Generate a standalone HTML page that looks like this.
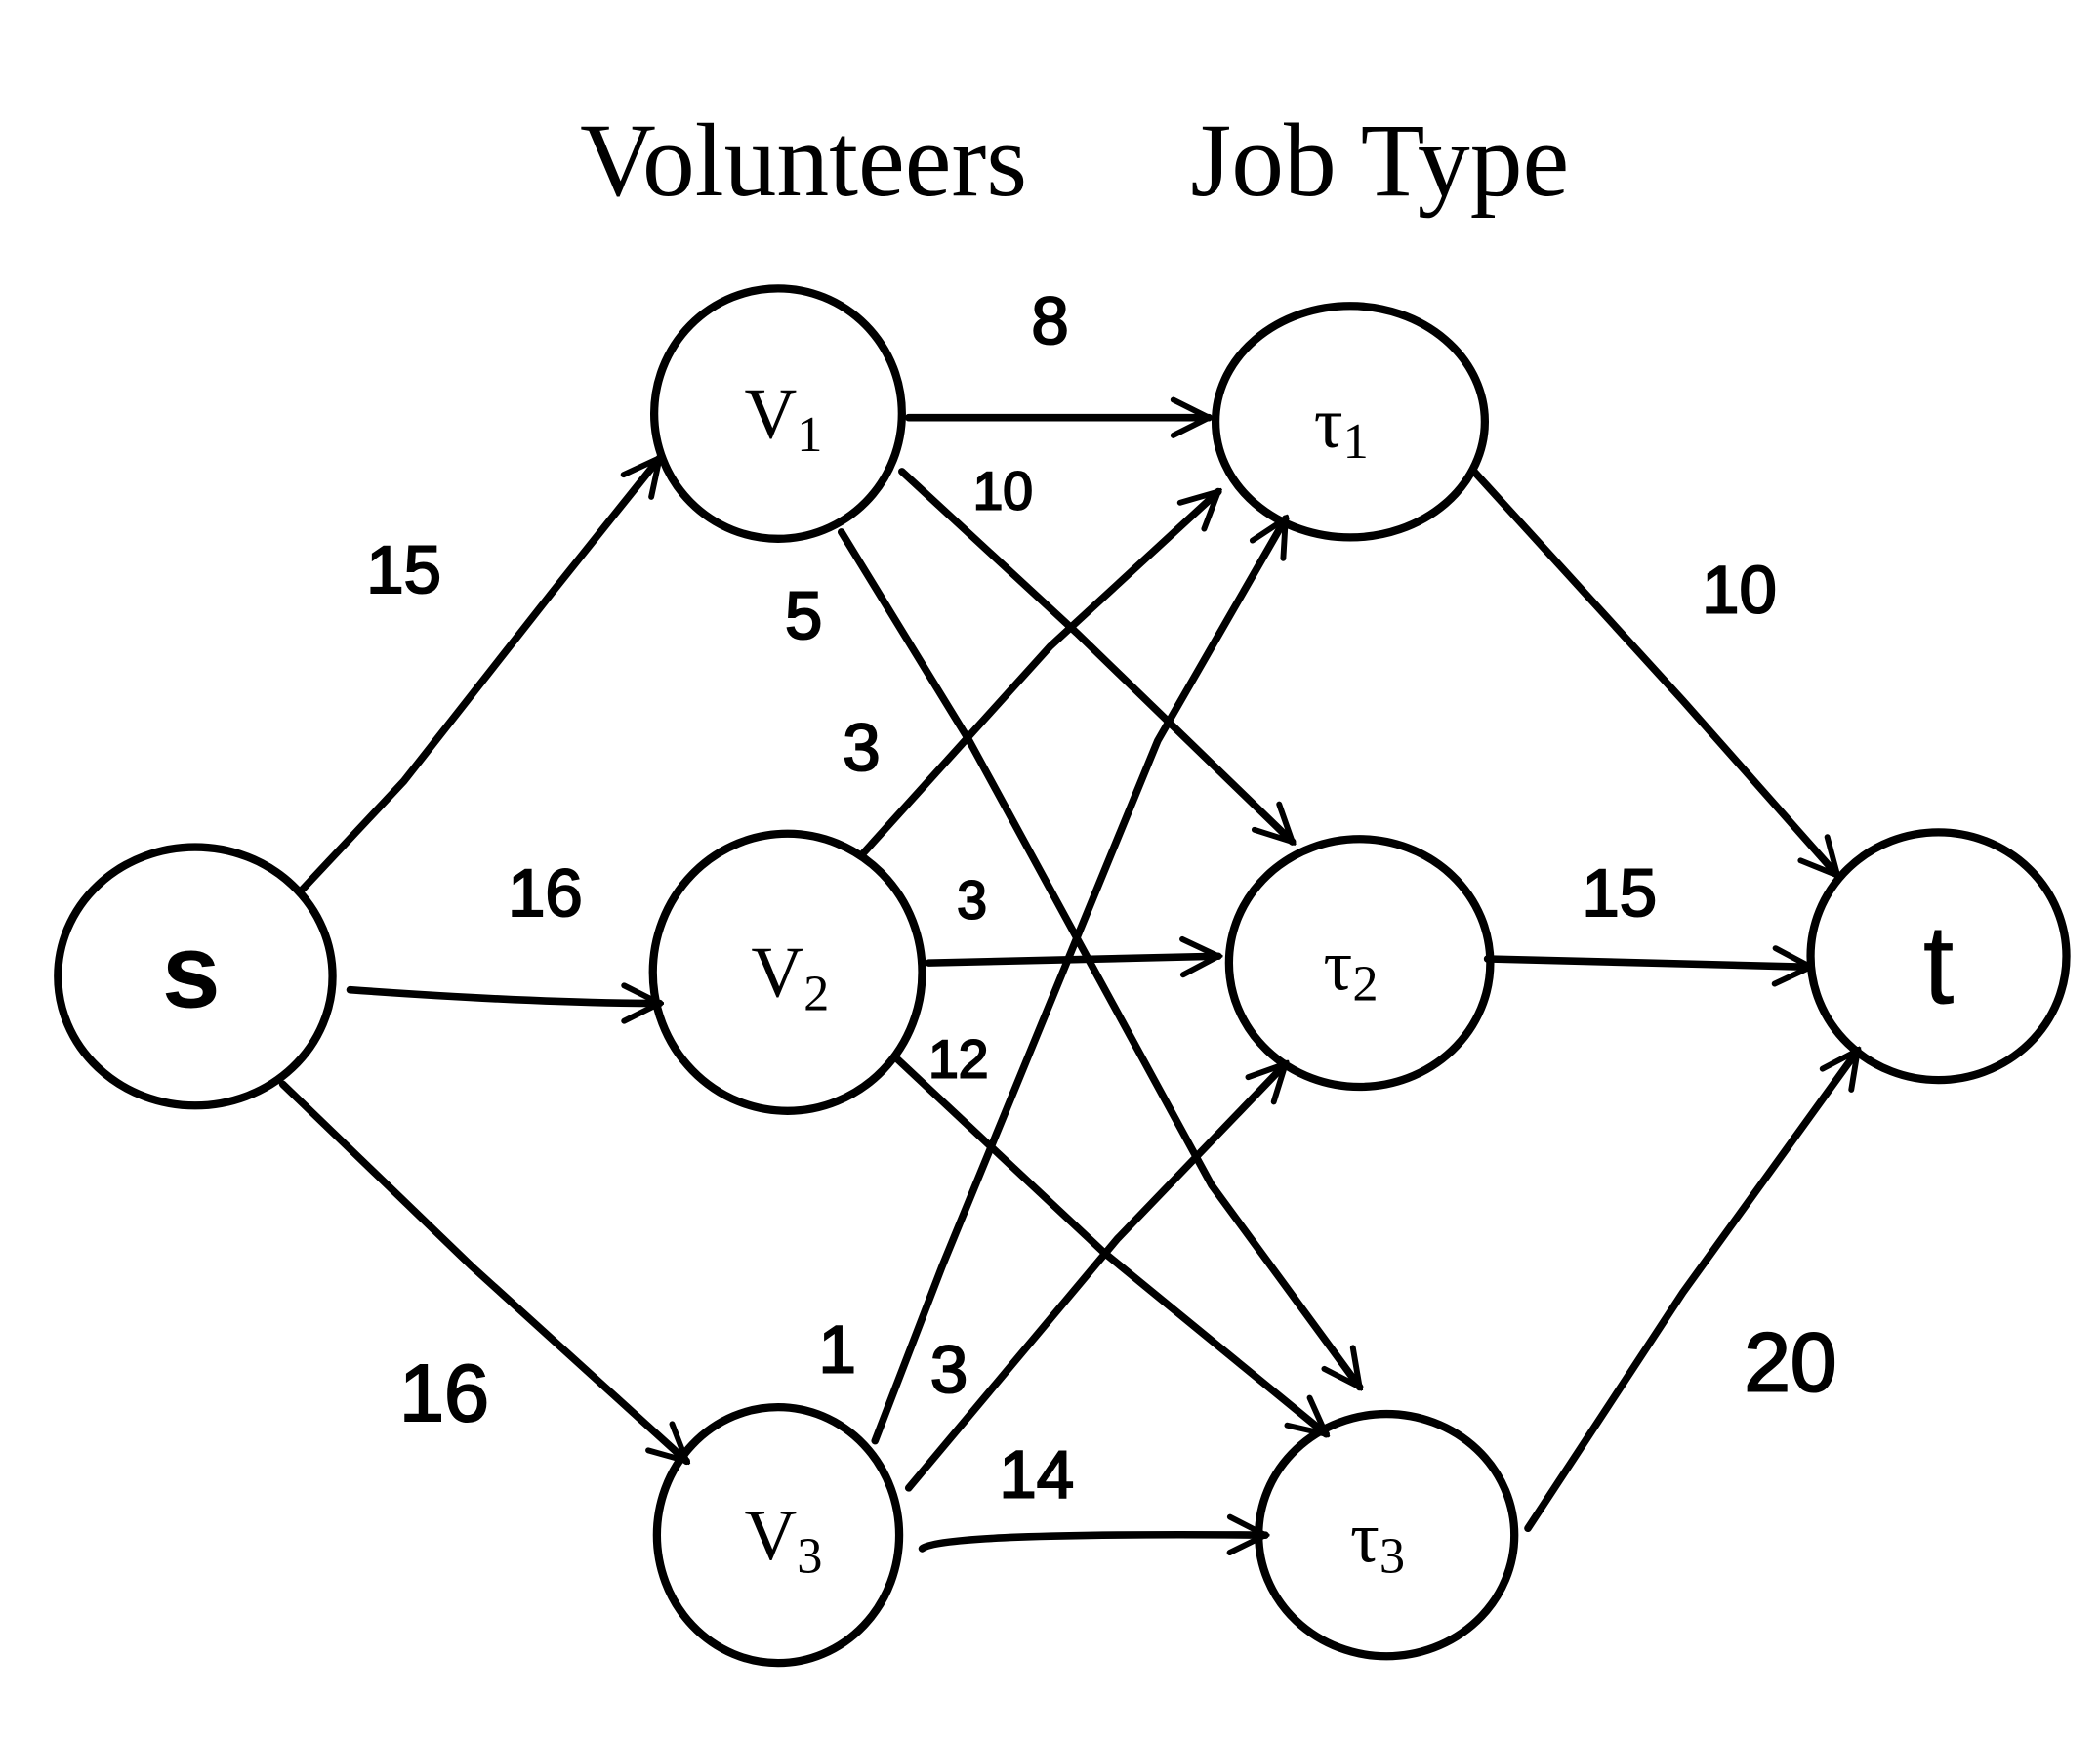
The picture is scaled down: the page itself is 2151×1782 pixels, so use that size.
<!DOCTYPE html>
<html><head><meta charset="utf-8"><style>
html,body{margin:0;padding:0;background:#fff}
svg{display:block}
.h{font-family:"Liberation Sans",sans-serif;font-size:50px;fill:#000;stroke:#000;stroke-width:1.5}
.n{font-family:"Liberation Serif",serif;font-size:54px;fill:#000}
.s{font-family:"Liberation Serif",serif;font-size:38px;fill:#000}
.t{font-family:"Liberation Serif",serif;font-size:78px;fill:#000}
</style></head><body>
<svg width="2151" height="1782" viewBox="0 0 1560 1292" xmlns="http://www.w3.org/2000/svg">
<defs>
<marker id="a" viewBox="0 0 20 20" refX="18" refY="10" markerWidth="6" markerHeight="6" markerUnits="strokeWidth" orient="auto">
<path d="M2,2 L18,10 L2,18" fill="none" stroke="#000" stroke-width="2.6" stroke-linecap="round"/>
</marker>
</defs>
<text class="t" x="597" y="145" text-anchor="middle">Volunteers</text>
<text class="t" x="1025" y="145" text-anchor="middle">Job Type</text>
<g fill="none" stroke="#000" stroke-width="6">
<ellipse cx="145" cy="725" rx="102" ry="96"/>
<ellipse cx="578" cy="307" rx="92" ry="93"/>
<ellipse cx="585" cy="722" rx="100" ry="103"/>
<ellipse cx="578" cy="1140" rx="90" ry="95"/>
<ellipse cx="1003" cy="313" rx="100" ry="86"/>
<ellipse cx="1010" cy="715" rx="97" ry="92"/>
<ellipse cx="1030" cy="1140" rx="95" ry="90"/>
<ellipse cx="1440" cy="710" rx="95" ry="92"/>
<g stroke-width="5.5" stroke-linecap="round" marker-end="url(#a)">
<path d="M225,660 L300,580 L410,440 L490,340"/>
<path d="M260,735 Q400,745 490,745"/>
<path d="M210,805 L350,940 L510,1085"/>
<path d="M675,310 L898,310"/>
<path d="M670,350 L800,470 L960,625"/>
<path d="M625,395 L720,550 L900,880 L1010,1030"/>
<path d="M640,635 L780,480 L905,365"/>
<path d="M690,715 L905,710"/>
<path d="M665,785 L820,930 L985,1065"/>
<path d="M650,1070 L700,940 L860,550 L955,385"/>
<path d="M675,1105 L830,920 L955,790"/>
<path d="M685,1150 Q700,1138 940,1140"/>
<path d="M1095,350 L1250,520 L1365,650"/>
<path d="M1105,712 L1345,718"/>
<path d="M1135,1135 L1250,960 L1380,780"/>
</g>
</g>
<text class="t" x="142" y="748" text-anchor="middle" font-weight="bold" style="font-family:'Liberation Sans',sans-serif">s</text>
<text class="t" x="1440" y="745" text-anchor="middle" style="font-family:'Liberation Sans',sans-serif;font-size:84px">t</text>
<text class="n" x="553" y="325">V<tspan class="s" dy="10">1</tspan></text>
<text class="n" x="558" y="740">V<tspan class="s" dy="10">2</tspan></text>
<text class="n" x="553" y="1158">V<tspan class="s" dy="10">3</tspan></text>
<text class="n" x="976" y="332" font-size="62">τ<tspan class="s" dy="8">1</tspan></text>
<text class="n" x="983" y="735" font-size="62">τ<tspan class="s" dy="8">2</tspan></text>
<text class="n" x="1003" y="1160" font-size="62">τ<tspan class="s" dy="8">3</tspan></text>
<g class="h" text-anchor="middle">
<text x="300" y="440">15</text>
<text x="405" y="680">16</text>
<text x="330" y="1055" font-size="60">16</text>
<text x="780" y="255">8</text>
<text x="745" y="378" font-size="40">10</text>
<text x="597" y="474">5</text>
<text x="640" y="572">3</text>
<text x="722" y="682" font-size="40">3</text>
<text x="712" y="800" font-size="40">12</text>
<text x="622" y="1019">1</text>
<text x="705" y="1034">3</text>
<text x="770" y="1112">14</text>
<text x="1292" y="455">10</text>
<text x="1203" y="680">15</text>
<text x="1330" y="1033" font-size="62">20</text>
</g>
</svg>
</body></html>
